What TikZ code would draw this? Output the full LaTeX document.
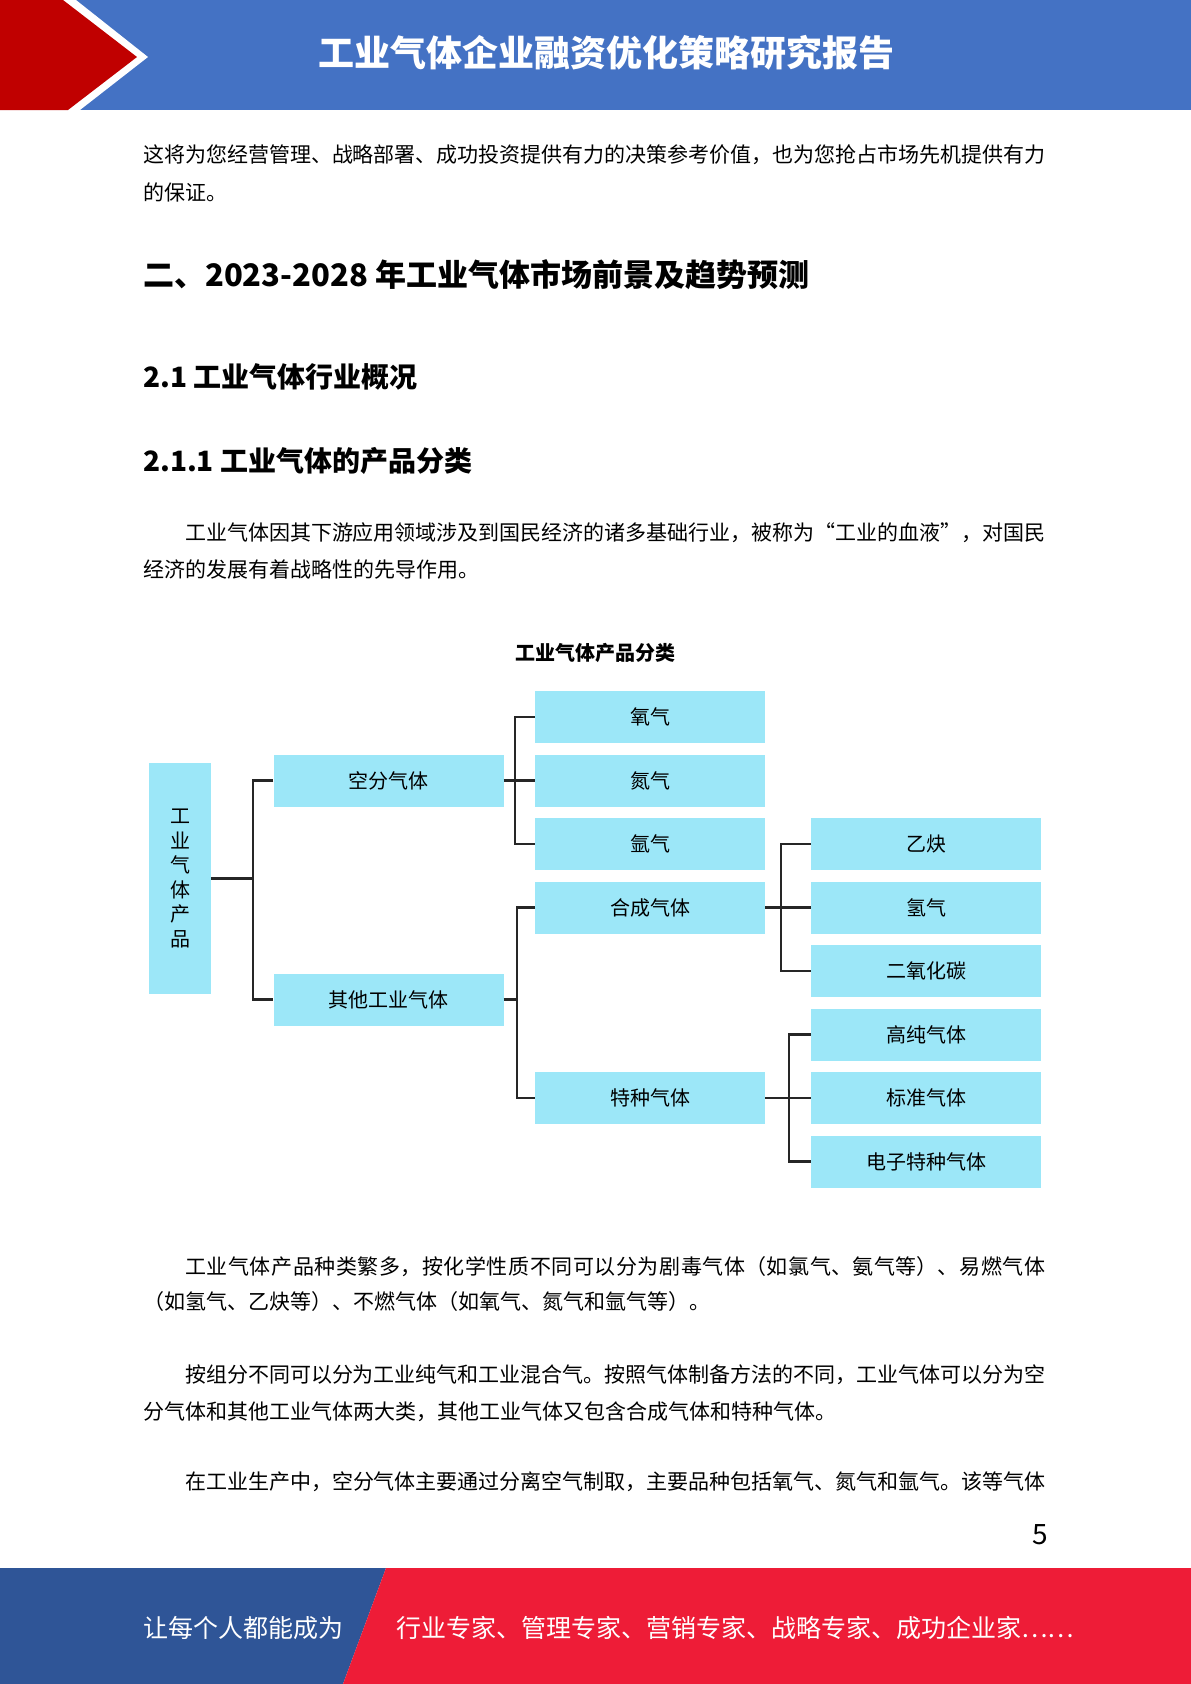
\documentclass[tikz,border=0pt]{standalone}
\usepackage{fontspec}
\setmainfont{Noto Sans CJK SC}
\usepackage{tikz}
\usetikzlibrary{positioning}
\XeTeXlinebreaklocale "zh"
\XeTeXlinebreakskip=0pt plus 3pt minus 0.6pt
\definecolor{boxcyan}{RGB}{156,231,248}
\definecolor{hdrblue}{RGB}{68,114,196}
\definecolor{hdrred}{RGB}{192,0,0}
\definecolor{ftblue}{RGB}{47,85,151}
\definecolor{ftred}{RGB}{238,28,55}
\tikzstyle{gasbox} = [rectangle, minimum width=230pt, minimum height=52pt, inner sep=0pt, text centered, fill=boxcyan, font=\fontsize{20}{24}\selectfont]
\tikzstyle{rootbox} = [rectangle, minimum width=62pt, minimum height=231pt, inner sep=0pt, text width=22pt, align=center, fill=boxcyan, font=\fontsize{20}{24.6}\selectfont]
\tikzstyle{link} = [line width=2.2pt, draw=black!85]
\tikzstyle{bodyline} = [anchor=west, inner sep=0pt, font=\fontsize{21}{25}\selectfont]
\tikzstyle{headline} = [anchor=west, inner sep=0pt, font=\bfseries\fontsize{28}{32}\selectfont]
\tikzstyle{footline} = [anchor=west, inner sep=0pt, text=white, font=\fontsize{25}{30}\selectfont]
\newcommand{\fullline}[2]{\parbox{#1}{\parfillskip=0pt\relax #2}}

\begin{document}
\begin{tikzpicture}[x=1pt, y=-1pt, node distance=63.5pt]
\useasboundingbox (0,0) rectangle (1191,1684);
% header band
\fill[hdrblue] (0,0) rectangle (1191,110);
\fill[white] (0,0) -- (76,0) -- (148,57) -- (80,110) -- (0,110) -- cycle;
\fill[hdrred] (0,0) -- (63,0) -- (137,57) -- (68,110) -- (0,110) -- cycle;
\node (title) [text=white, font=\bfseries\fontsize{36}{42}\selectfont] at (606,53) {工业气体企业融资优化策略研究报告};
% text above the chart
\node (p1a) [bodyline] at (143,155) {\fullline{902pt}{这将为您经营管理、战略部署、成功投资提供有力的决策参考价值，也为您抢占市场先机提供有力}};
\node (p1b) [bodyline] at (143,192) {的保证。};
\node (sec2) [headline, font=\bfseries\fontsize{31}{36}\selectfont] at (143,275) {二、2023-2028 年工业气体市场前景及趋势预测};
\node (sec21) [headline] at (143,377) {2.1 工业气体行业概况};
\node (sec211) [headline] at (143,461) {2.1.1 工业气体的产品分类};
\node (p2a) [bodyline] at (185,533) {\fullline{860pt}{工业气体因其下游应用领域涉及到国民经济的诸多基础行业，被称为“工业的血液”，对国民}};
\node (p2b) [bodyline] at (143,570) {经济的发展有着战略性的先导作用。};
% chart
\node (ctitle) [font=\bfseries\fontsize{20}{24}\selectfont] at (595,653) {工业气体产品分类};
\node (g0) [rootbox] at (180,878.5) {工\\业\\气\\体\\产\\品};
\node (o1) [gasbox] at (650,717) {氧气};
\node (o2) [gasbox, below of=o1] {氮气};
\node (o3) [gasbox, below of=o2] {氩气};
\node (s1) [gasbox, below of=o3] {合成气体};
\node (s2) [gasbox, below of=s1, yshift=-127pt] {特种气体};
\node (g1) [gasbox, left of=o2, node distance=261.5pt] {空分气体};
\node (g2) [gasbox] at (388.5,999.5) {其他工业气体};
\node (h1) [gasbox, right of=o3, node distance=276pt] {乙炔};
\node (h2) [gasbox, below of=h1] {氢气};
\node (h3) [gasbox, below of=h2] {二氧化碳};
\node (t1) [gasbox, below of=h3] {高纯气体};
\node (t2) [gasbox, below of=t1] {标准气体};
\node (t3) [gasbox, below of=t2] {电子特种气体};
\coordinate (jR) at (253,878.5);
\coordinate (jA) at (515,780.5);
\coordinate (jB) at (517,999.5);
\coordinate (jC) at (781,907.5);
\coordinate (jD) at (789,1098);
\draw [link] (g0.east) -- (jR);
\draw [link] (g1.west) -| (jR) |- (g2.west);
\draw [link] (g1.east) -- (o2.west);
\draw [link] (o1.west) -| (jA) |- (o3.west);
\draw [link] (g2.east) -- (jB);
\draw [link] (s1.west) -| (jB) |- (s2.west);
\draw [link] (s1.east) -- (h2.west);
\draw [link] (h1.west) -| (jC) |- (h3.west);
\draw [link] (s2.east) -- (t2.west);
\draw [link] (t1.west) -| (jD) |- (t3.west);
% text below the chart
\node (p3a) [bodyline] at (185,1267) {\fullline{860pt}{工业气体产品种类繁多，按化学性质不同可以分为剧毒气体（如氯气、氨气等）、易燃气体}};
\node (p3b) [bodyline] at (143,1302) {（如氢气、乙炔等）、不燃气体（如氧气、氮气和氩气等）。};
\node (p4a) [bodyline] at (185,1375) {\fullline{860pt}{按组分不同可以分为工业纯气和工业混合气。按照气体制备方法的不同，工业气体可以分为空}};
\node (p4b) [bodyline] at (143,1412) {分气体和其他工业气体两大类，其他工业气体又包含合成气体和特种气体。};
\node (p5a) [bodyline] at (185,1482) {\fullline{860pt}{在工业生产中，空分气体主要通过分离空气制取，主要品种包括氧气、氮气和氩气。该等气体}};
\node (pnum) [font=\fontsize{28}{32}\selectfont] at (1040,1535) {5};
% footer band
\fill[ftblue] (0,1568) -- (386,1568) -- (343,1684) -- (0,1684) -- cycle;
\fill[ftred] (386,1568) -- (1191,1568) -- (1191,1684) -- (343,1684) -- cycle;
\node (slogan) [footline] at (143,1628) {让每个人都能成为};
\node (roles) [footline] at (396,1628) {行业专家、管理专家、营销专家、战略专家、成功企业家……};
\end{tikzpicture}
\end{document}
